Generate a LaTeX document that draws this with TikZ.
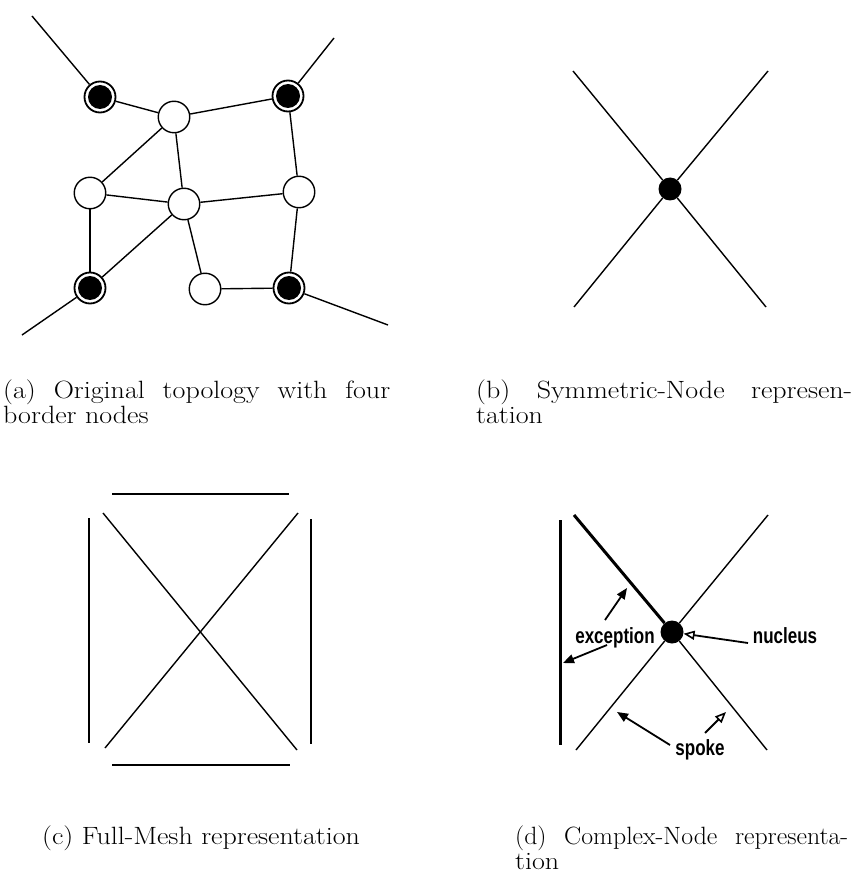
\documentclass[tikz,border=0pt]{standalone}
\usepackage{fontspec}
\usepackage{graphicx}
\newfontfamily\labelfont{Liberation Sans}
\usetikzlibrary{arrows.meta}

% a caption line spread to a given width (in pt), widened by a factor (in percent)
\newcommand\fitline[3][112]{\scalebox{\fpeval{#1/100}}[1]{\makebox[\dimexpr #2pt*100/#1\relax][s]{#3}}}
% the last line of a caption, at its natural width
\newcommand\lastline[1]{\scalebox{1.12}[1]{#1}}
% bold sans label, a little condensed
\newcommand\labeltext[1]{\scalebox{0.85}[1.1]{\labelfont\bfseries #1}}

\tikzset{
  edge/.style={line width=1.4pt},
  thickedge/.style={line width=3pt},
  plainnode/.style={circle, draw, line width=1.4pt, fill=white,
    minimum size=31.5pt, inner sep=0pt},
  bordernode/.style={circle, draw, line width=1.8pt, fill=white,
    minimum size=31pt, inner sep=0pt,
    path picture={\fill[black] (path picture bounding box.center) circle (12pt);}},
  hub/.style={circle, fill=black, minimum size=23pt, inner sep=0pt},
  captext/.style={inner sep=0pt, anchor=base west, font=\fontsize{25}{27}\selectfont},
  lab/.style={inner sep=0pt, anchor=base, font=\fontsize{20}{20}\selectfont},
  pointer/.style={line width=1.8pt, -{Triangle[length=11pt,width=9pt]}},
  openpointer/.style={line width=1.8pt, -{Triangle[open,length=11pt,width=9pt,line width=1.6pt]}},
}

\begin{document}
\begin{tikzpicture}[x=1pt,y=-1pt]
\fill[white] (0,0) rectangle (863,877);
\useasboundingbox (0,0) rectangle (863,877);

% ---------- (a) original topology ----------
\node[bordernode] (tl) at (100,97) {};
\node[bordernode] (tr) at (288,96) {};
\node[bordernode] (bl) at (90,288) {};
\node[bordernode] (br) at (289,288) {};
\node[plainnode] (top) at (174,117) {};
\node[plainnode] (lm) at (90,193) {};
\node[plainnode] (ctr) at (184,204) {};
\node[plainnode] (rm) at (299,192) {};
\node[plainnode] (bot) at (205,289) {};
\coordinate (tlout) at (32,16);
\coordinate (trout) at (334,38);
\coordinate (blout) at (22,335);
\coordinate (brout) at (388,325);

\draw[edge] (tlout) -- (tl);
\draw[edge] (trout) -- (tr);
\draw[edge] (blout) -- (bl);
\draw[edge] (brout) -- (br);
\draw[edge] (tl) -- (top);
\draw[edge] (top) -- (tr);
\draw[edge] (tr) -- (rm);
\draw[edge] (rm) -- (br);
\draw[edge] (br) -- (bot);
\draw[edge] (bot) -- (ctr);
\draw[edge] (ctr) -- (rm);
\draw[edge] (ctr) -- (top);
\draw[edge] (ctr) -- (lm);
\draw[edge] (lm) -- (top);
\draw[edge] (lm) -- (bl);
\draw[edge] (bl) -- (ctr);

\node[captext] (capa1) at (3,398) {\fitline{387}{(a) Original topology with four}};
\node[captext] (capa2) at (3,423) {\lastline{border nodes}};

% ---------- (b) symmetric node ----------
\node[hub] (bhub) at (670,189) {};
\coordinate (b1) at (573,71);
\coordinate (b2) at (768,71);
\coordinate (b3) at (574,307);
\coordinate (b4) at (766,307);
\draw[edge] (b1) -- (bhub);
\draw[edge] (b2) -- (bhub);
\draw[edge] (b3) -- (bhub);
\draw[edge] (b4) -- (bhub);

\node[captext] (capb1) at (476,398) {\fitline{376}{(b) Symmetric-Node represen-}};
\node[captext] (capb2) at (476,423) {\lastline{tation}};

% ---------- (c) full mesh ----------
\coordinate (c1) at (103,513);
\coordinate (c2) at (298,513);
\coordinate (c3) at (105,748);
\coordinate (c4) at (297,750);
\draw[edge] (c1) -- (c4);
\draw[edge] (c2) -- (c3);
\draw[edge] (112,494) -- (289,494);
\draw[edge] (112,765) -- (290,765);
\draw[edge, line width=1.7pt] (89,518) -- (89,743);
\draw[edge, line width=1.7pt] (311,519) -- (311,744);

\node[captext] (capc) at (42,844) {\lastline{(c) Full-Mesh representation}};

% ---------- (d) complex node ----------
\node[hub] (nuc) at (672,632) {};
\coordinate (d1) at (574,515);
\coordinate (d2) at (768,515);
\coordinate (d3) at (576,750);
\coordinate (d4) at (767,750);
\coordinate (v1) at (560,520);
\coordinate (v2) at (560,745);
\draw[thickedge] (d1) -- (nuc);
\draw[edge] (d2) -- (nuc);
\draw[edge] (d3) -- (nuc);
\draw[edge] (d4) -- (nuc);
\draw[thickedge] (v1) -- (v2);

\node[lab] (exc) at (615,643) {\labeltext{exception}};
\node[lab] (nucl) at (785,643) {\labeltext{nucleus}};
\node[lab] (spk) at (700,755) {\labeltext{spoke}};

\coordinate (e1t) at (605,620);
\coordinate (e1h) at (627,588);
\coordinate (e2t) at (607,645);
\coordinate (e2h) at (563,663);
\coordinate (nt) at (748,643);
\coordinate (s1t) at (670,745);
\coordinate (s1h) at (617,712);
\coordinate (s2t) at (705,733);
\coordinate (s2h) at (726,712);
\draw[pointer] (e1t) -- (e1h);
\draw[pointer] (e2t) -- (e2h);
\draw[openpointer] (nt) -- (nuc);
\draw[pointer] (s1t) -- (s1h);
\draw[openpointer] (s2t) -- (s2h);

\node[captext] (capd1) at (515,844) {\fitline[103]{333}{(d) Complex-Node representa-}};
\node[captext] (capd2) at (515,869) {\lastline{tion}};
\end{tikzpicture}
\end{document}
